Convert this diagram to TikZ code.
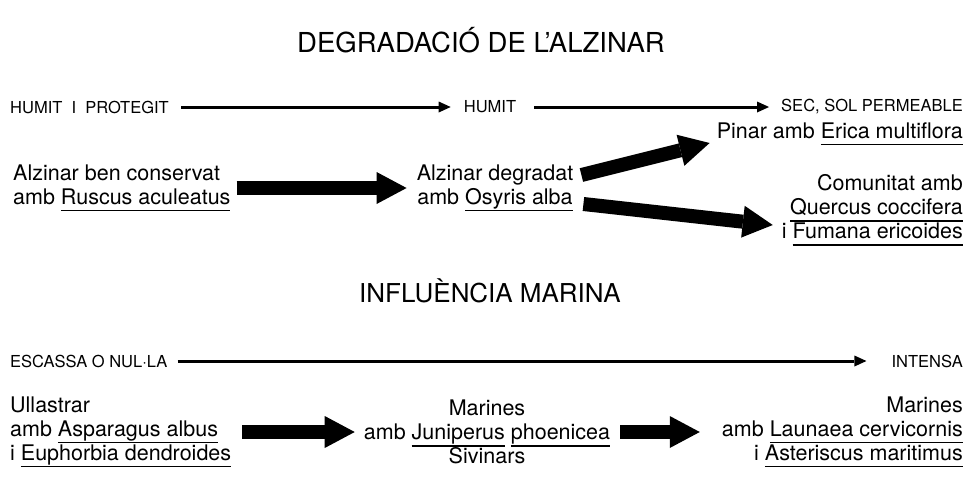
\documentclass[tikz,border=0pt]{standalone}
\usepackage{fontspec}
\setmainfont{TeX Gyre Heros}
\usetikzlibrary{arrows.meta,positioning}

\newcommand{\species}[1]{\leavevmode\setbox0=\hbox{#1}\rlap{\rule[-7pt]{\wd0}{1.2pt}}\box0\relax}

\begin{document}
\begin{tikzpicture}[
    x = 1pt, y = -1pt, % page units, y downwards
    bigarrow/.style = {line width=14pt, -{Triangle[length=30pt,width=32pt,line width=0pt]}}, % thick arrow
    thinarrow/.style = {line width=3pt, -{Triangle[length=12pt,width=11pt,line width=0pt]}} % scale arrow
    ]

    \tikzset{
    heading/.style = {inner sep=0pt, font=\fontsize{26}{30}\selectfont},
    axislabel/.style = {inner sep=0pt, font=\fontsize{16.5}{18}\selectfont},
    plant/.style = {inner sep=0pt, font=\fontsize{21.5}{24}\selectfont}
    }
    \useasboundingbox (0,0) rectangle (980,480);

    % degradacio
    \node[heading, font=\fontsize{27.5}{30}\selectfont] (t1) at (481,40) {DEGRADACIÓ DE L’ALZINAR};
    \node[axislabel, anchor=west] (h1) at (10,107) {HUMIT \ I \ PROTEGIT};
    \node[axislabel] (h2) at (490,107) {HUMIT};
    \node[axislabel, anchor=east] (h3) at (963,107) {SEC, SOL PERMEABLE};

    \path (h1) edge[thinarrow, shorten <=12pt, shorten >=13pt] (h2)
          (h2) edge[thinarrow, shorten <=18pt, shorten >=12pt] (h3);

    \node[plant, align=left, anchor=west] (a1) at (13,188) {Alzinar ben conservat\\amb \species{Ruscus aculeatus}};
    \node[plant, align=center] (a2) at (495,188) {Alzinar degradat\\amb \species{Osyris alba}};
    \node[plant, anchor=east] (e1) at (963,134) {Pinar amb \species{Erica multiflora}};
    \node[plant, align=right, anchor=east] (e2) at (963,210) {Comunitat amb\\\species{Quercus coccifera}\\i \species{Fumana ericoides}};

    \path (a1) edge[bigarrow, shorten <=6pt, shorten >=10pt] (a2);
    \path ([xshift=8pt,yshift=13pt]a2.east) edge[bigarrow] ([xshift=-7pt,yshift=-9pt]e1.west)
          ([xshift=10pt,yshift=-16pt]a2.east) edge[bigarrow] ([xshift=-9pt,yshift=-15pt]e2.west);

    % influencia marina
    \node[heading] (t2) at (490,291) {INFLUÈNCIA MARINA};
    \node[axislabel, anchor=west] (m1) at (10,361) {ESCASSA O NUL·LA};
    \node[axislabel, anchor=east] (m2) at (963,361) {INTENSA};

    \path (m1) edge[thinarrow, shorten <=10pt, shorten >=25pt] (m2);

    \node[plant, align=left, anchor=west] (u1) at (10,432) {Ullastrar\\amb \species{Asparagus albus}\\i \species{Euphorbia dendroides}};
    \node[plant, align=center] (u2) at (487,432) {Marines\\amb \species{Juniperus} \species{phoenicea}\\Sivinars};
    \node[plant, align=right, anchor=east] (u3) at (963,432) {Marines\\amb \species{Launaea cervicornis}\\i \species{Asteriscus maritimus}};

    \path (u1) edge[bigarrow, shorten <=11pt, shorten >=9pt] (u2)
          (u2) edge[bigarrow, shorten <=10pt, shorten >=22pt] (u3);
\end{tikzpicture}
\end{document}
